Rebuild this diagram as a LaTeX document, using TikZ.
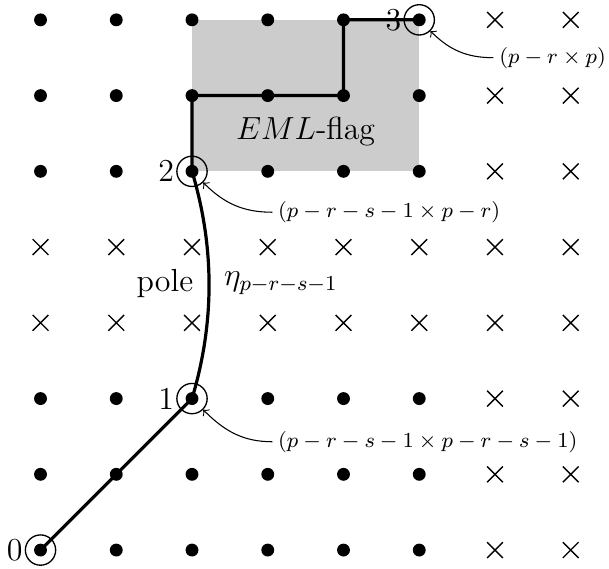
\documentclass[tikz,border=0pt]{standalone}
\usetikzlibrary{shapes.misc}
\begin{document}
\begin{tikzpicture}[
  gdot/.style={circle, fill=black, inner sep=0pt, minimum size=0.17cm},
  gcross/.style={cross out, draw, line width=0.5pt, inner sep=0pt, minimum size=0.19cm},
  ring/.style={circle, draw, line width=0.5pt, inner sep=0pt, minimum size=0.4cm},
  chain/.style={line width=1.2pt},
  tag/.style={font=\fontsize{8.5}{10}\selectfont, inner sep=2pt},
  ptr/.style={->, line width=0.4pt},
  num/.style={font=\fontsize{12}{14}\selectfont, inner sep=0.6pt},
  big/.style={font=\fontsize{12}{14}\selectfont}
]
\useasboundingbox (-0.535,-0.25) rectangle (7.505,7.262);
% flag area
\fill[gray!40] (2,5) rectangle (5,7);
% grid
\foreach \j in {0,1,2,5,6,7} {
  \foreach \i in {0,...,5} {\node[gdot] (p-\i-\j) at (\i,\j) {};}
  \foreach \i in {6,7} {\node[gcross] (p-\i-\j) at (\i,\j) {};}
}
\foreach \j in {3,4} {
  \foreach \i in {0,...,7} {\node[gcross] (p-\i-\j) at (\i,\j) {};}
}
% chain
\draw[chain] (p-0-0.center) -- (p-1-1.center) -- (p-2-2.center)
  .. controls (2.3,3) and (2.3,4) .. (p-2-5.center)
  -- (p-2-6.center) -- (p-3-6.center) -- (p-4-6.center)
  -- (p-4-7.center) -- (p-5-7.center);
% rings
\node[ring] (c0) at (0,0) {};
\node[ring] (c1) at (2,2) {};
\node[ring] (c2) at (2,5) {};
\node[ring] (c3) at (5,7) {};
\node[num, anchor=east] (n0) at (c0.west) {0};
\node[num, anchor=east] (n1) at (c1.west) {1};
\node[num, anchor=east] (n2) at (c2.west) {2};
\node[num, anchor=east] (n3) at (c3.west) {3};
% labels
\node[big] (flag) at (3.5,5.52) {$EML$-flag};
\node[big, anchor=east] (pole) at (2.14,3.52) {pole};
\node[big, anchor=west] (eta) at (2.30,3.52) {$\eta_{p-r-s-1}$};
\node[tag, anchor=west] (t3) at (5.98,6.5) {$(p-r\times p)$};
\node[tag, anchor=west] (t2) at (3.06,4.46) {$(p-r-s-1\times p-r)$};
\node[tag, anchor=west] (t1) at (3.06,1.43) {$(p-r-s-1\times p-r-s-1)$};
\draw[ptr] (t3.west) to[out=180, in=-45] (c3.-45);
\draw[ptr] (t2.west) to[out=180, in=-45] (c2.-45);
\draw[ptr] (t1.west) to[out=180, in=-45] (c1.-45);
\end{tikzpicture}
\end{document}
